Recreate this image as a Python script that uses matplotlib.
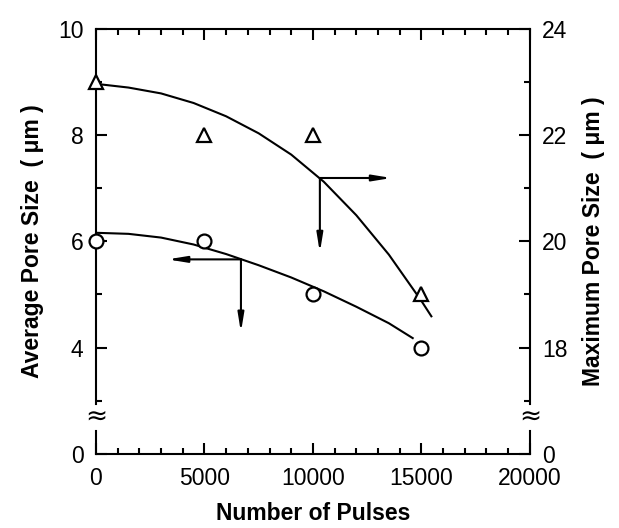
import matplotlib
matplotlib.use("Agg")
import matplotlib.pyplot as plt
from matplotlib.ticker import MultipleLocator, FixedLocator

plt.rcParams['font.family'] = ['Liberation Sans', 'DejaVu Sans']

# ---- data ----
pulses = [0, 5000, 10000, 15000]
avg_pore = [6, 6, 5, 4]            # left axis (um)
max_pore = [23, 22, 22, 19]        # right axis (um)

# trend curves
avg_curve_x = [0, 1500, 3000, 4500, 6000, 7500, 9000, 10500, 12000, 13500, 14600]
avg_curve_y = [6.16, 6.14, 6.07, 5.94, 5.76, 5.55, 5.32, 5.06, 4.77, 4.46, 4.18]
max_curve_x = [0, 1500, 3000, 4500, 6000, 7500, 9000, 10500, 12000, 13500, 15000, 15460]
max_curve_y = [22.96, 22.89, 22.78, 22.60, 22.35, 22.03, 21.63, 21.12, 20.49, 19.75, 18.88, 18.59]

# arrows (corner point, horizontal end, vertical end)
avg_arrow = dict(corner=(6683, 5.66), h_end=3303, v_end=4.29)
max_arrow = dict(corner=(10321, 21.19), h_end=13624, v_end=19.79)

x_ticks = [0, 5000, 10000, 15000, 20000]
left_ticks = [2, 4, 6, 8, 10]
left_labels = ['0', '4', '6', '8', '10']
right_ticks = [16, 18, 20, 22, 24]
right_labels = ['0', '18', '20', '22', '24']

fig = plt.figure(figsize=(6.19, 5.28), dpi=100)
ax = fig.add_axes([0.155, 0.140, 0.701, 0.806])
ax2 = ax.twinx()

LW = 1.5
ax.set_xlim(0, 20000)
ax.set_ylim(2, 10)
ax2.set_ylim(16, 24)

# curves and markers
ax.plot(avg_curve_x, avg_curve_y, color='k', lw=LW, zorder=3, solid_joinstyle='round')
ax.plot(pulses, avg_pore, 'o', ms=10, mfc='white', mec='k', mew=1.6, clip_on=False, zorder=4)
ax2.plot(max_curve_x, max_curve_y, color='k', lw=LW, zorder=3, solid_joinstyle='round')
ax2.plot(pulses, max_pore, '^', ms=10.5, mfc='white', mec='k', mew=1.6, clip_on=False, zorder=4)

aprops = dict(arrowstyle='-|>,head_length=1.1,head_width=0.18', lw=LW, color='k',
              shrinkA=0, shrinkB=0)
for a, axx in ((avg_arrow, ax), (max_arrow, ax2)):
    cx, cy = a['corner']
    axx.annotate('', xy=(a['h_end'], cy), xytext=(cx, cy), arrowprops=aprops)
    axx.annotate('', xy=(cx, a['v_end']), xytext=(cx, cy), arrowprops=aprops)

# ticks
ax.set_xticks(x_ticks)
ax.xaxis.set_minor_locator(MultipleLocator(1000))
ax.set_yticks(left_ticks)
ax.set_yticklabels(left_labels)
ax.yaxis.set_minor_locator(FixedLocator([3, 5, 7, 9]))
ax2.set_yticks(right_ticks)
ax2.set_yticklabels(right_labels)
ax2.yaxis.set_minor_locator(FixedLocator([17, 19, 21, 23]))

ax.tick_params(axis='both', which='both', direction='in', top=True, labelsize=16.5, width=LW)
ax.tick_params(axis='both', which='major', length=8)
ax.tick_params(axis='both', which='minor', length=4)
ax.tick_params(axis='x', pad=9)
ax.tick_params(axis='y', pad=9)
ax2.tick_params(axis='y', which='both', direction='in', labelsize=16.5, width=LW, pad=9)
ax2.tick_params(axis='y', which='major', length=8)
ax2.tick_params(axis='y', which='minor', length=4)

# spines with axis break
for s in ('top', 'bottom'):
    ax.spines[s].set_linewidth(LW)
for s in ax2.spines.values():
    s.set_visible(False)
ax.spines['left'].set_visible(False)
ax.spines['right'].set_visible(False)
ytr = ax.get_yaxis_transform()
for xp in (0, 1):
    ax.plot([xp, xp], [2.94, 10], transform=ytr, color='k', lw=LW, clip_on=False, solid_capstyle='projecting')
    ax.plot([xp, xp], [2, 2.43], transform=ytr, color='k', lw=LW, clip_on=False, solid_capstyle='projecting')
    ax.text(xp, 2.70, '\u2248', transform=ytr, ha='center', va='center', fontsize=19,
            family=['DejaVu Sans'])

ax.set_xlabel('Number of Pulses', fontsize=16.5, fontweight='bold', labelpad=9)
ax.set_ylabel('Average Pore Size  ( \u03bcm )', fontsize=16.5, fontweight='bold', labelpad=10)
ax2.set_ylabel('Maximum Pore Size  ( \u03bcm )', fontsize=16.5, fontweight='bold', labelpad=10)

fig.savefig('out.png', dpi=100)
